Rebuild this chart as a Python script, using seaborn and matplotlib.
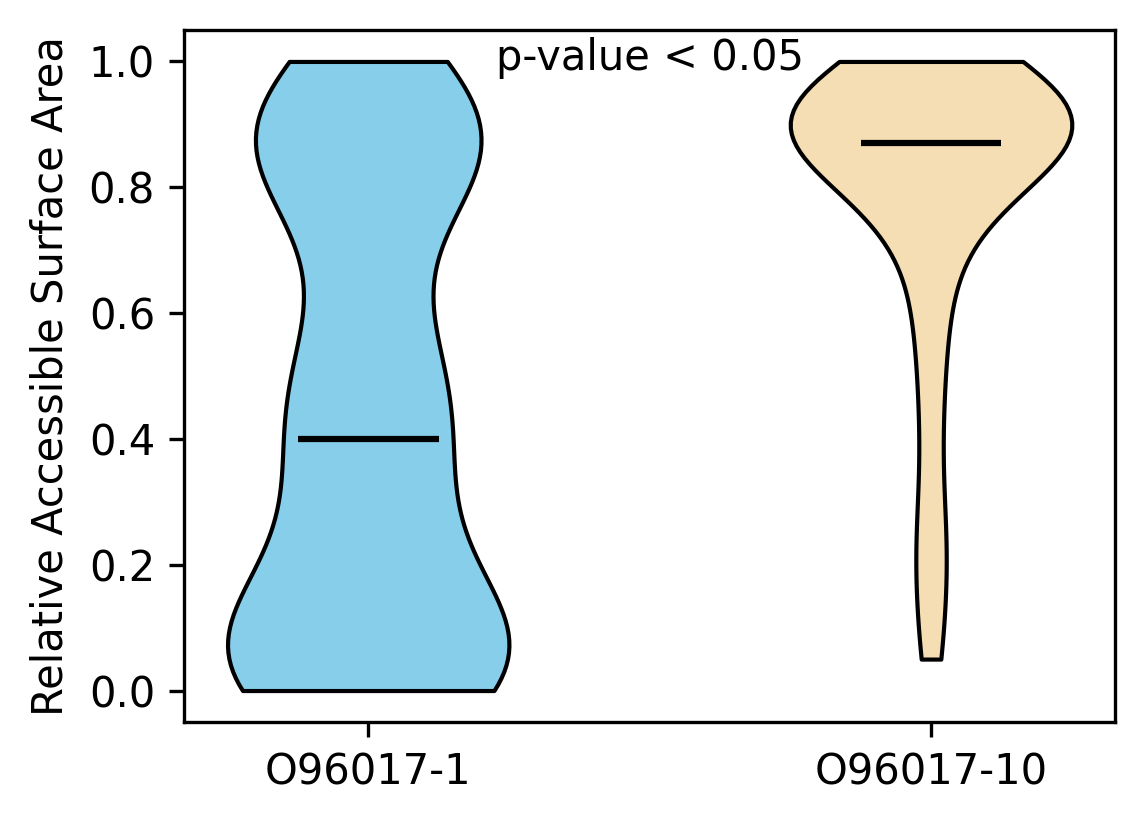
import numpy as np
import pandas as pd
import matplotlib
matplotlib.use("Agg")
import matplotlib.pyplot as plt
import seaborn as sns

# valores de RSA por isoforma (lidos aproximadamente do gráfico)
ISOFORMAS = ["O96017-1", "O96017-10"]
CORES = ["#87CEEB", "#F5DEB3"]

rsa_iso1 = [0.0, 0.0, 0.0, 0.01, 0.02, 0.03, 0.04, 0.05, 0.06, 0.07, 0.08, 0.09, 0.11, 0.13,
            0.18, 0.24, 0.29, 0.33, 0.37,
            0.40,
            0.43, 0.46, 0.49, 0.52, 0.55, 0.59,
            0.76, 0.80, 0.82, 0.84, 0.86, 0.87, 0.89, 0.90, 0.91, 0.92, 0.93, 0.94, 1.0]

rsa_iso10 = [0.05, 0.15, 0.22, 0.30, 0.42, 0.52, 0.60, 0.66,
             0.72, 0.75, 0.78, 0.80, 0.81, 0.83, 0.84, 0.85, 0.86, 0.86, 0.87, 0.87, 0.88,
             0.89, 0.90, 0.90, 0.90, 0.91, 0.91, 0.92, 0.92, 0.93, 0.93,
             0.94, 0.95, 0.96, 0.97, 0.98, 0.99, 1.0, 1.0]

P_TEXTO = "p-value < 0.05"

df = pd.DataFrame({
    "isoforma": [ISOFORMAS[0]] * len(rsa_iso1) + [ISOFORMAS[1]] * len(rsa_iso10),
    "rsa": rsa_iso1 + rsa_iso10,
})

fig = plt.figure(figsize=(1144 / 300, 824 / 300), dpi=300)
ax = fig.add_axes([0.161, 0.1238, 0.9747 - 0.161, 0.9636 - 0.1238])

sns.violinplot(data=df, x="isoforma", y="rsa", hue="isoforma", order=ISOFORMAS,
               hue_order=ISOFORMAS, palette=CORES, cut=0, inner=None, width=0.5,
               density_norm="width", bw_adjust=0.75, linecolor="black", linewidth=1,
               saturation=1, legend=False, ax=ax)

# medianas
for i, nome in enumerate(ISOFORMAS):
    med = df.loc[df["isoforma"] == nome, "rsa"].median()
    ax.hlines(med, i - 0.125, i + 0.125, color="black", linewidth=1.5)

ax.text(0.5, 1.005, P_TEXTO, ha="center", va="center", fontsize=10)

ax.set_xlim(-0.327, 1.327)
ax.set_ylim(-0.05, 1.05)
ax.set_xlabel("")
ax.set_ylabel("Relative Accessible Surface Area", fontsize=10)
ax.tick_params(labelsize=10)
for s in ax.spines.values():
    s.set_visible(True)
    s.set_color("black")

fig.savefig("out.png", dpi=300)
